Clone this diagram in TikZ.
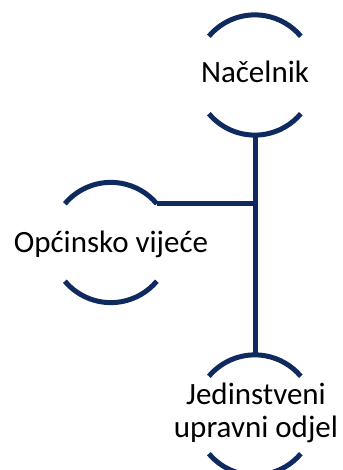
\documentclass[tikz,border=0pt]{standalone}
\usepackage{fontspec}
\setmainfont{Carlito}
\definecolor{navy}{HTML}{0E2A5F}
\begin{document}
\begin{tikzpicture}[x=1pt,y=1pt,
  ring/.style={circle,draw=none,minimum size=120pt,inner sep=0pt},
  arcline/.style={draw=navy,line width=5pt},
  conn/.style={draw=navy,line width=5pt},
  lbl/.style={align=center,inner sep=0pt,font=\fontsize{31}{33}\selectfont,text=black}]
\useasboundingbox (0,0) rectangle (342,470);
% ring geometry
\node[ring] (nacR) at (255,395) {};
\node[ring] (opcR) at (111,227.5) {};
\node[ring] (jedR) at (255,55) {};
% arcs
\foreach \r in {nacR,opcR,jedR}{
  \draw[arcline] (\r.140) arc[start angle=140,end angle=40,radius=60pt];
  \draw[arcline] (\r.220) arc[start angle=220,end angle=320,radius=60pt];
}
% labels
\node[lbl,anchor=base] (nac) at (255,387) {Načelnik};
\node[lbl,anchor=base] (opc) at (111,217) {Općinsko vijeće};
\node[lbl,anchor=base] (jed) at (256,32) {Jedinstveni\\upravni odjel};
% connectors
\draw[conn] (nacR.south) -- (jedR.north);
\draw[conn] (opcR.40) -- (opcR.40 -| nacR.south);
\end{tikzpicture}
\end{document}
